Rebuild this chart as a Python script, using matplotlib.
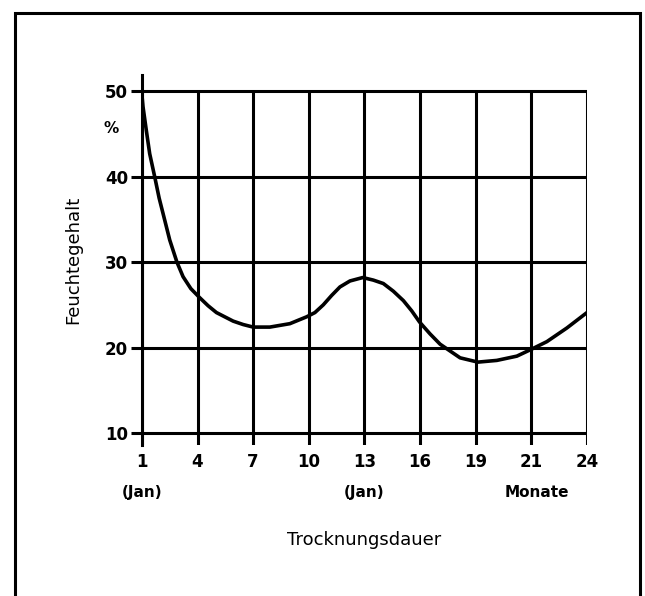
import numpy as np
import matplotlib
matplotlib.use('Agg')
import matplotlib.pyplot as plt
from matplotlib.patches import Rectangle

font = {'family': 'DejaVu Sans',
        'weight': 'bold',
        'size': 12}
matplotlib.rc('font', **font)

# x axis: months, drawn at equally spaced positions
month_labels = ['1', '4', '7', '10', '13', '16', '19', '21', '24']
y_ticks = [10, 20, 30, 40, 50]

# curve (position along the x ticks, moisture in %)
curve_pos = [0.0, 0.02, 0.08, 0.14, 0.23, 0.31, 0.38, 0.50, 0.63, 0.74, 0.88,
             1.03, 1.19, 1.34, 1.49, 1.64, 1.82, 2.0, 2.30, 2.66, 2.96,
             3.11, 3.26, 3.41, 3.56, 3.74, 3.97, 4.16, 4.34, 4.52, 4.70,
             4.85, 4.99, 5.18, 5.36, 5.72, 6.04, 6.38, 6.74, 7.0, 7.28,
             7.64, 8.0]
curve_val = [49.6, 48.2, 45.4, 42.7, 40.0, 37.5, 35.7, 32.6, 30.0, 28.3, 26.9,
             25.9, 24.9, 24.1, 23.6, 23.1, 22.7, 22.4, 22.4, 22.8, 23.6,
             24.1, 25.0, 26.1, 27.1, 27.8, 28.2, 27.9, 27.5, 26.6, 25.5,
             24.3, 23.0, 21.6, 20.4, 18.8, 18.3, 18.5, 19.0, 19.8, 20.7,
             22.3, 24.1]

fig = plt.figure(figsize=(6.45, 5.96), dpi=100)
ax = fig.add_axes([0.220, 0.2534, 0.690, 0.6206])

pos = np.arange(len(month_labels))
ymin, ymax = 8.6, 51.9
lw = 2.2

# grid
ax.hlines(y_ticks, 0, pos[-1], color='black', lw=lw)
ax.vlines(pos, ymin, 50, color='black', lw=lw)

# curve
ax.plot(curve_pos, curve_val, color='black', lw=2.6,
        solid_capstyle='round', solid_joinstyle='round')

ax.set_xlim(0, pos[-1])
ax.set_ylim(ymin, ymax)
for s in ['top', 'right', 'bottom']:
    ax.spines[s].set_visible(False)
ax.spines['left'].set_linewidth(lw)
ax.spines['left'].set_bounds(ymin, ymax)

ax.set_yticks(y_ticks)
ax.set_yticklabels([str(v) for v in y_ticks])
ax.tick_params(axis='y', direction='out', length=8, width=lw, pad=2, labelsize=12)
ax.set_xticks(pos)
ax.set_xticklabels(month_labels)
ax.tick_params(axis='x', length=0, pad=6, labelsize=12)
ax.patch.set_alpha(0)

ax.annotate('%', xy=(0, 45.6), xycoords='data', xytext=(-22, 0),
            textcoords='offset points', ha='center', va='center', fontsize=11)

ax.annotate('(Jan)', xy=(0, 0), xycoords=('data', 'axes fraction'), xytext=(0, -34),
            textcoords='offset points', ha='center', va='center', fontsize=11)
ax.annotate('(Jan)', xy=(4, 0), xycoords=('data', 'axes fraction'), xytext=(0, -34),
            textcoords='offset points', ha='center', va='center', fontsize=11)
ax.annotate('Monate', xy=(7.1, 0), xycoords=('data', 'axes fraction'), xytext=(0, -34),
            textcoords='offset points', ha='center', va='center', fontsize=11)

ax.set_xlabel('Trocknungsdauer', fontsize=13, fontweight='normal', labelpad=43)
ax.set_ylabel('Feuchtegehalt', fontsize=13, fontweight='normal', labelpad=16)

# frame around the whole picture
fig.patches.append(Rectangle((15 / 645, -0.02), 625 / 645, (596 - 13) / 596 + 0.02,
                             transform=fig.transFigure, fill=False,
                             edgecolor='black', lw=2.2))

fig.savefig('out.png', dpi=100)
